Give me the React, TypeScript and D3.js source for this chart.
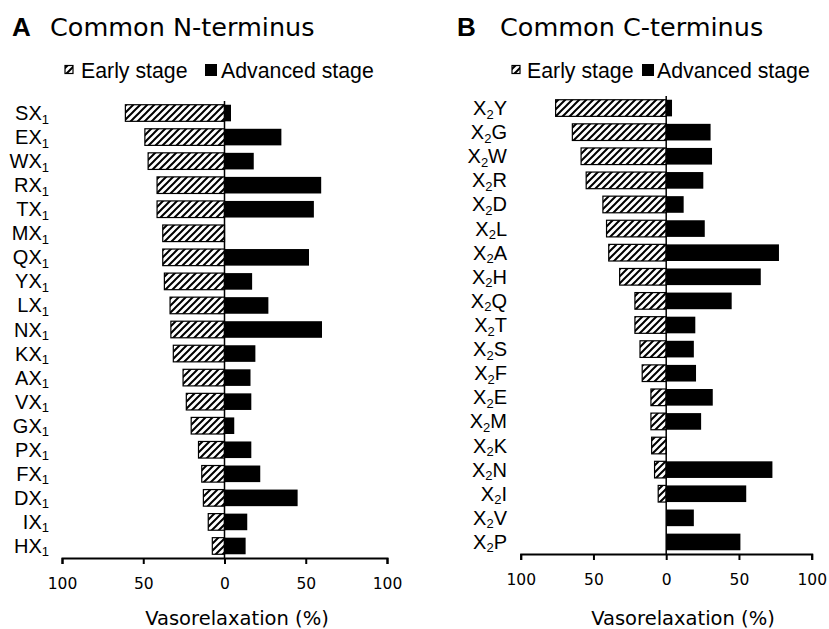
import React, { useEffect, useRef } from 'react';
import * as d3 from 'd3';

// Panel A: common N-terminus (residue + X1)
const nResidues = ['S', 'E', 'W', 'R', 'T', 'M', 'Q', 'Y', 'L', 'N', 'K', 'A', 'V', 'G', 'P', 'F', 'D', 'I', 'H'];
const nEarly = [61, 49, 47, 41.5, 41.5, 38, 38, 37, 33.5, 33, 31.5, 25.5, 23.5, 20.5, 16, 14, 13, 10, 7.5];
const nAdvanced = [4, 35, 18, 59.5, 55, 0, 52, 17, 27, 60, 19, 16, 16.5, 6, 16.5, 22, 45, 14, 13];

// Panel B: common C-terminus (X2 + residue)
const cResidues = ['Y', 'G', 'W', 'R', 'D', 'L', 'A', 'H', 'Q', 'T', 'S', 'F', 'E', 'M', 'K', 'N', 'I', 'V', 'P'];
const cEarly = [76, 64.5, 58.5, 55, 43.5, 41, 39.5, 32, 21.5, 21.5, 18, 16.5, 10.5, 10.5, 10, 8, 5.5, 0, 0];
const cAdvanced = [4, 30.5, 31.5, 25.5, 12, 26.5, 77.5, 65, 45, 20, 19, 20.5, 32, 24, 0, 73, 55, 19, 51];

const xTicks = [-100, -50, 0, 50, 100];

const W = 829;
const H = 629;

interface PanelProps {
  letter: string;
  title: string;
  residues: string[];
  early: number[];
  advanced: number[];
  nTerm: boolean;
  xRange: [number, number];
  yRange: [number, number];
  titleX: number;
  legendX: number[];
  axisTitleX: number;
  labelRight: number;
}

const Panel: React.FC<PanelProps> = (p) => {
  const axisRef = useRef<SVGGElement>(null);
  const x = d3.scaleLinear().domain([-100, 100]).range(p.xRange);
  const y = d3.scaleBand<string>().domain(p.residues).range(p.yRange).paddingInner(0.31).paddingOuter(0.155);
  const axisY = p.yRange[1];

  useEffect(() => {
    if (!axisRef.current) return;
    const g = d3.select(axisRef.current);
    g.selectAll('*').remove();
    g.call(
      d3.axisBottom(x)
        .tickValues(xTicks)
        .tickSize(6)
        .tickSizeOuter(6)
        .tickPadding(14)
        .tickFormat((d) => String(Math.abs(+d)))
    );
    g.select('.domain').attr('stroke', '#000').attr('stroke-width', 2);
    g.selectAll('.tick line').attr('stroke', '#000').attr('stroke-width', 2);
    g.selectAll('.tick text')
      .attr('fill', '#000')
      .attr('font-family', '"DejaVu Sans", Verdana, sans-serif')
      .attr('font-size', 15.5);
  });

  const legendY = 70;

  return (
    <g>
      <text x={p.titleX} y={36} fontFamily='"Liberation Sans", Arial, sans-serif' fontWeight="bold" fontSize={26}>{p.letter}</text>
      <text x={p.titleX + (p.nTerm ? 38 : 43)} y={36} fontFamily='"DejaVu Sans", Verdana, sans-serif' fontSize={25.5}>{p.title}</text>

      {/* legend */}
      <rect x={p.legendX[0]} y={legendY - 4.5} width={8} height={8} fill="url(#hatch)" stroke="#000" strokeWidth={1.2} />
      <text x={p.legendX[1]} y={legendY + 7.5} fontFamily='"Liberation Sans", Arial, sans-serif' fontSize={21.3}>Early stage</text>
      <rect x={p.legendX[2]} y={legendY - 6} width={12} height={12} fill="#000" />
      <text x={p.legendX[3]} y={legendY + 7.5} fontFamily='"Liberation Sans", Arial, sans-serif' fontSize={21.3}>Advanced stage</text>

      {/* bars */}
      {p.residues.map((r, i) => (
        <g key={r}>
          {p.early[i] > 0 && (
            <rect
              x={x(-p.early[i])}
              y={y(r)!}
              width={x(0) - x(-p.early[i])}
              height={y.bandwidth()}
              fill="url(#hatch)"
              stroke="#000"
              strokeWidth={1.2}
            />
          )}
          {p.advanced[i] > 0 && (
            <rect
              x={x(0)}
              y={y(r)!}
              width={x(p.advanced[i]) - x(0)}
              height={y.bandwidth()}
              fill="#000"
            />
          )}
          <text
            x={p.labelRight}
            y={y(r)! + y.bandwidth() / 2 + 7}
            textAnchor="end"
            fontFamily='"Liberation Sans", Arial, sans-serif'
            fontSize={20}
          >
            {p.nTerm ? (
              <>
                <tspan>{r}X</tspan>
                <tspan fontSize={13} dy={3.5}>1</tspan>
              </>
            ) : (
              <>
                <tspan>X</tspan>
                <tspan fontSize={13} dy={3.5}>2</tspan>
                <tspan dy={-3.5}>{r}</tspan>
              </>
            )}
          </text>
        </g>
      ))}

      {/* zero line */}
      <line x1={x(0)} x2={x(0)} y1={p.yRange[0]} y2={axisY} stroke="#000" strokeWidth={1.5} />

      <g ref={axisRef} transform={`translate(0,${axisY})`} />

      <text
        x={p.axisTitleX}
        y={625}
        textAnchor="middle"
        fontFamily='"DejaVu Sans", Verdana, sans-serif'
        fontSize={19.5}
      >
        Vasorelaxation (%)
      </text>
    </g>
  );
};

export default function App() {
  return (
    <svg
      width={W}
      height={H}
      style={{ position: 'absolute', left: 0, top: 0, background: '#fff', display: 'block' }}
    >
      <defs>
        <pattern id="hatch" patternUnits="userSpaceOnUse" width={7} height={7}>
          <rect width={7} height={7} fill="#fff" />
          <path d="M-1,8 L8,-1 M-2,2 L2,-2 M5,9 L9,5" stroke="#000" strokeWidth={2} />
        </pattern>
      </defs>
      <rect width={W} height={H} fill="#fff" />
      <Panel
        letter="A"
        title="Common N-terminus"
        residues={nResidues}
        early={nEarly}
        advanced={nAdvanced}
        nTerm={true}
        xRange={[62, 387]}
        yRange={[101, 558]}
        titleX={12}
        legendX={[65, 81, 205, 221]}
        axisTitleX={237}
        labelRight={49}
      />
      <Panel
        letter="B"
        title="Common C-terminus"
        residues={cResidues}
        early={cEarly}
        advanced={cAdvanced}
        nTerm={false}
        xRange={[520.7, 811.7]}
        yRange={[96, 554]}
        titleX={457}
        legendX={[512, 527, 642, 657]}
        axisTitleX={683}
        labelRight={507}
      />
    </svg>
  );
}
